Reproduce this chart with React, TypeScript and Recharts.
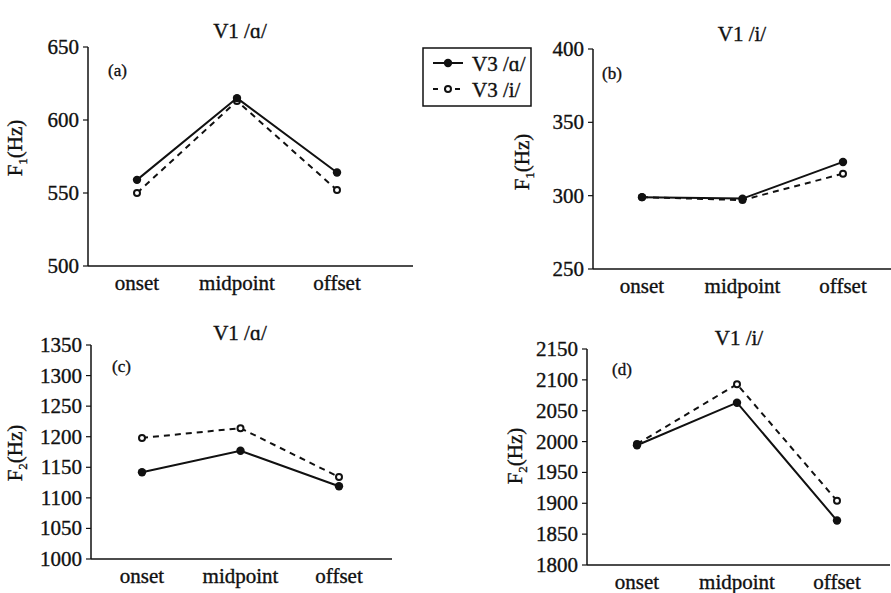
import React from "react";
import { LineChart, Line, XAxis, YAxis } from "recharts";

const categories = ["onset", "midpoint", "offset"];
const seriesNames = ["V3 /ɑ/", "V3 /i/"];

const aSolid = [559, 615, 564];
const aDashed = [550, 613, 552];
const bSolid = [299, 298, 323];
const bDashed = [299, 297, 315];
const cSolid = [1142, 1177, 1119];
const cDashed = [1198, 1214, 1134];
const dSolid = [1994, 2063, 1872];
const dDashed = [1996, 2093, 1904];

const ticksF1a = [500, 550, 600, 650];
const ticksF1b = [250, 300, 350, 400];
const ticksF2c = [1000, 1050, 1100, 1150, 1200, 1250, 1300, 1350];
const ticksF2d = [1800, 1850, 1900, 1950, 2000, 2050, 2100, 2150];

const titles = ["V1 /ɑ/", "V1 /i/", "V1 /ɑ/", "V1 /i/"];
const panelTags = ["(a)", "(b)", "(c)", "(d)"];

const W = 891;
const H = 593;
const FONT = "Liberation Serif, Times New Roman, serif";
const INK = "#111";
const TXT = { fontFamily: FONT, fill: INK, stroke: INK, strokeWidth: 0.35 };

const build = (s: number[], d: number[]) =>
  categories.map((c, i) => ({ cat: c, solid: s[i], dashed: d[i] }));

type Panel = {
  data: { cat: string; solid: number; dashed: number }[];
  ticks: number[];
  plot: [number, number, number, number];
  pad: [number, number];
  showRight: boolean;
  title: [number, number];
  tag: [number, number];
  ylab: [number, number];
  sub: string;
};

const panels: Panel[] = [
  { data: build(aSolid, aDashed), ticks: ticksF1a, plot: [88, 47, 413, 266], pad: [49, 76], showRight: true, title: [240, 38], tag: [108, 76], ylab: [22, 148], sub: "1" },
  { data: build(bSolid, bDashed), ticks: ticksF1b, plot: [593, 49, 891, 269], pad: [49, 48], showRight: false, title: [742, 41], tag: [602, 79], ylab: [529, 162], sub: "1" },
  { data: build(cSolid, cDashed), ticks: ticksF2c, plot: [91, 345, 392, 559], pad: [51, 53], showRight: true, title: [240, 340], tag: [112, 372], ylab: [22, 453], sub: "2" },
  { data: build(dSolid, dDashed), ticks: ticksF2d, plot: [587, 349, 890, 565], pad: [50, 53], showRight: true, title: [739, 345], tag: [612, 375], ylab: [522, 456], sub: "2" },
];

const YW = 60;
const XH = 20;

const YTick = (props: any) => {
  const { x, y, payload } = props;
  return (
    <text x={x} y={y} dy={7} textAnchor="end" fontSize={21} style={TXT}>
      {payload.value}
    </text>
  );
};

const XTick = (props: any) => {
  const { x, y, payload } = props;
  return (
    <text x={x} y={y} dy={24} textAnchor="middle" fontSize={21} style={TXT}>
      {payload.value}
    </text>
  );
};

const OpenDot = (props: any) => {
  const { cx, cy } = props;
  if (cx == null || cy == null) return null;
  return <circle cx={cx} cy={cy} r={3} fill="#fff" stroke={INK} strokeWidth={2} />;
};

const FilledDot = (props: any) => {
  const { cx, cy } = props;
  if (cx == null || cy == null) return null;
  return <circle cx={cx} cy={cy} r={4.2} fill={INK} stroke="none" />;
};

const PanelChart = ({ p }: { p: Panel }) => {
  const [x0, y0, x1, y1] = p.plot;
  const margin = { top: y0, left: x0 - YW, right: W - x1, bottom: H - y1 - XH };
  const ax = { stroke: INK, strokeWidth: 1.5 };
  return (
    <div style={{ position: "absolute", left: 0, top: 0 }}>
      <LineChart width={W} height={H} data={p.data} margin={margin}>
        <XAxis
          dataKey="cat"
          height={XH}
          padding={{ left: p.pad[0], right: p.pad[1] }}
          tick={<XTick />}
          tickLine={false}
          tickSize={0}
          tickMargin={0}
          axisLine={ax}
          interval={0}
        />
        <XAxis
          xAxisId="top"
          dataKey="cat"
          orientation="top"
          height={0}
          tick={false}
          tickLine={false}
          axisLine={ax}
        />
        <YAxis
          type="number"
          domain={[p.ticks[0], p.ticks[p.ticks.length - 1]]}
          ticks={p.ticks}
          width={YW}
          tick={<YTick />}
          tickSize={5}
          tickMargin={4}
          tickLine={{ stroke: INK, strokeWidth: 1.2 }}
          axisLine={ax}
          allowDataOverflow
          interval={0}
        />
        <YAxis
          yAxisId="r"
          orientation="right"
          width={0}
          tick={false}
          tickLine={false}
          axisLine={p.showRight ? ax : false}
        />
        <Line
          dataKey="dashed"
          name={seriesNames[1]}
          stroke={INK}
          strokeWidth={2}
          strokeDasharray="6 5"
          dot={<OpenDot />}
          activeDot={false}
          isAnimationActive={false}
        />
        <Line
          dataKey="solid"
          name={seriesNames[0]}
          stroke={INK}
          strokeWidth={2}
          dot={<FilledDot />}
          activeDot={false}
          isAnimationActive={false}
        />
      </LineChart>
    </div>
  );
};

const Overlay = () => (
  <svg width={W} height={H} style={{ position: "absolute", left: 0, top: 0, pointerEvents: "none" }}>
    {panels.map((p, i) => (
      <g key={i}>
        <text x={p.title[0]} y={p.title[1]} textAnchor="middle" fontSize={21} style={TXT}>
          {titles[i]}
        </text>
        <text x={p.tag[0]} y={p.tag[1]} fontSize={17} style={TXT}>
          {panelTags[i]}
        </text>
        <text
          x={p.ylab[0]}
          y={p.ylab[1]}
          textAnchor="middle"
          fontSize={21}
          style={TXT}
          transform={`rotate(-90 ${p.ylab[0]} ${p.ylab[1]})`}
        >
          F<tspan fontSize={13} dy={5}>{p.sub}</tspan>
          <tspan dy={-5}>(Hz)</tspan>
        </text>
      </g>
    ))}
    <g>
      <rect x={423} y={48} width={108} height={58} fill="#fff" stroke={INK} strokeWidth={1.5} />
      <line x1={433} y1={63} x2={463} y2={63} stroke={INK} strokeWidth={2} />
      <circle cx={448} cy={63} r={4.2} fill={INK} />
      <text x={472} y={71} fontSize={21} style={TXT}>
        {seriesNames[0]}
      </text>
      <line x1={433} y1={89} x2={463} y2={89} stroke={INK} strokeWidth={2} strokeDasharray="5 6" />
      <circle cx={448} cy={89} r={3} fill="#fff" stroke={INK} strokeWidth={2} />
      <text x={472} y={97} fontSize={21} style={TXT}>
        {seriesNames[1]}
      </text>
    </g>
  </svg>
);

export default function App() {
  return (
    <div style={{ position: "absolute", left: 0, top: 0, width: W, height: H, overflow: "hidden", background: "#fff" }}>
      {panels.map((p, i) => (
        <PanelChart key={i} p={p} />
      ))}
      <Overlay />
    </div>
  );
}
